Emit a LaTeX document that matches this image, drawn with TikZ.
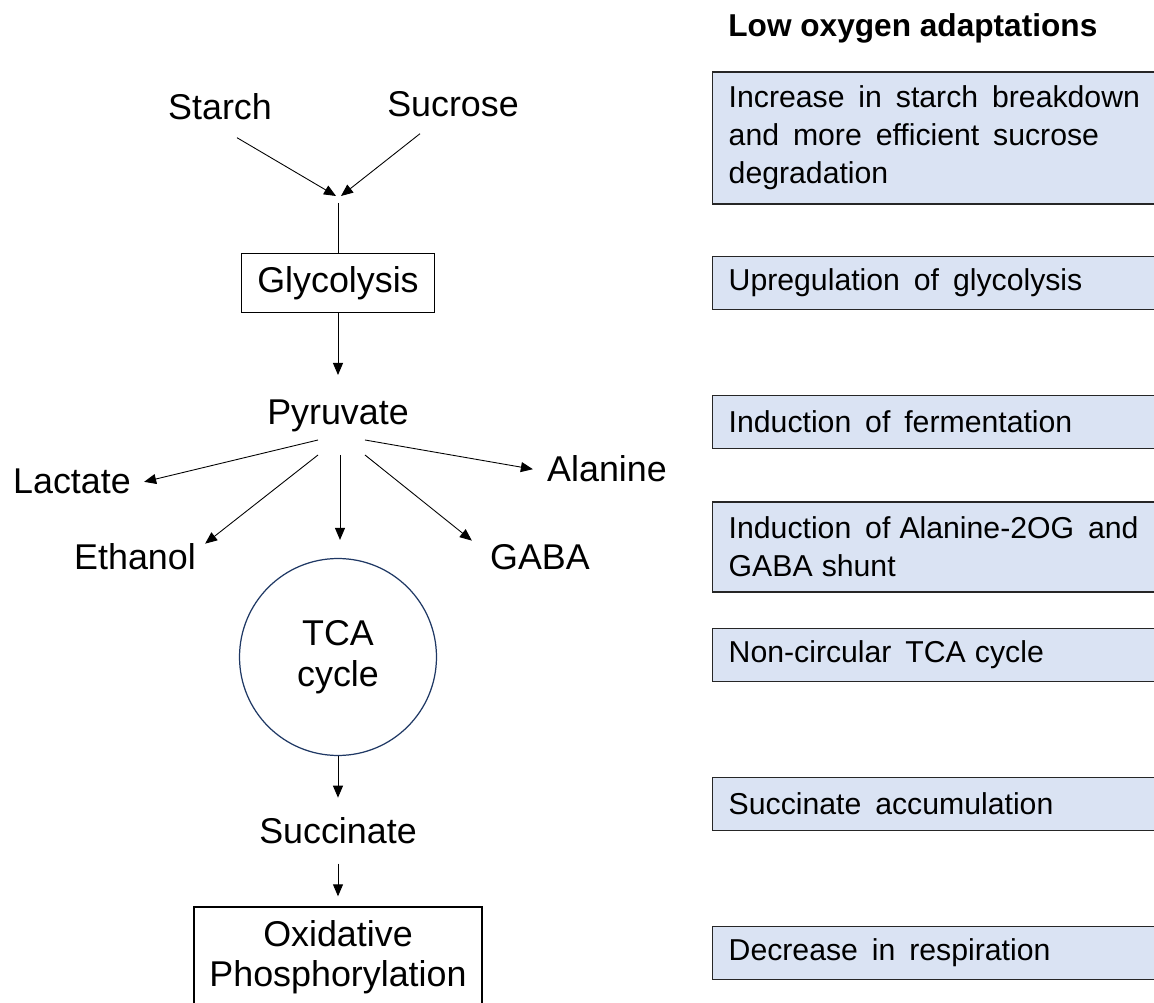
\documentclass[tikz,border=0pt]{standalone}
\usepackage{fontspec}
\setmainfont{Liberation Sans}
\usetikzlibrary{arrows.meta}

\definecolor{adaptfill}{HTML}{DAE3F3}
\definecolor{tcaline}{HTML}{1F3864}

\newcommand\widespaces{\spaceskip 0.46em\relax\hyphenpenalty 10000\relax}

\tikzset{
  lbl/.style={font=\fontsize{20.4}{23}\selectfont, inner sep=0pt, anchor=base},
  procbox/.style={draw, line width=0.8pt, font=\fontsize{20.4}{22.7}\selectfont, align=center},
  adapt/.style={draw=black!85, line width=0.8pt, fill=adaptfill, anchor=west,
    text width=9.4cm, inner xsep=0.32cm, align=left, font=\fontsize{17.2}{21.6}\selectfont},
  arr/.style={-{Triangle[length=0.24cm,width=0.2cm]}, line width=0.5pt},
}

\begin{document}
\begin{tikzpicture}[x=0.02cm, y=-0.02cm]
\useasboundingbox (0,0) rectangle (1154,1003);

% Sugars
\node [lbl] (starch) at (220,120) {Starch};
\node [lbl] (sucrose) at (453,117) {Sucrose};
\coordinate (jl) at (336,196);
\coordinate (jr) at (341,196);
\coordinate (jb) at (338,203);

% Glycolysis and pyruvate
\node [procbox, minimum width=3.86cm, minimum height=1.18cm] (glyco) at (338,283) {Glycolysis};
\node [lbl] (pyruvate) at (338,425) {Pyruvate};

% Products of pyruvate
\node [lbl] (lactate) at (72,494) {Lactate};
\node [lbl] (alanine) at (607,482) {Alanine};
\node [lbl] (ethanol) at (135,570) {Ethanol};
\node [lbl] (gaba) at (540,570) {GABA};

% TCA cycle and below
\node [circle, draw=tcaline, line width=0.7pt, minimum size=3.94cm, inner sep=0pt,
  align=center, font=\fontsize{20.4}{23.2}\selectfont] (tca) at (338,657) {TCA\\cycle};
\node [lbl] (succinate) at (338,843) {Succinate};
\node [procbox, minimum width=5.76cm, minimum height=2cm] (oxphos) at (338,957) {Oxidative\\Phosphorylation};

% Connectors
\draw [arr] (starch.south) ++(17,17) -- (jl);
\draw [arr] (sucrose.south) ++(-33,16) -- (jr);
\draw [line width=0.5pt] (jb) -- (glyco.north);
\draw [arr] (glyco.south) -- ([yshift=0.5cm]pyruvate.north);

\draw [arr] ([xshift=-0.4cm,yshift=-0.3cm]pyruvate.base) -- ([xshift=0.26cm]lactate.east);
\draw [arr] ([xshift=0.54cm,yshift=-0.3cm]pyruvate.base) -- ([xshift=-0.28cm]alanine.west);
\draw [arr] ([xshift=-0.4cm,yshift=-0.6cm]pyruvate.base) -- ([xshift=0.18cm]ethanol.north east);
\draw [arr] ([xshift=0.04cm,yshift=-0.6cm]pyruvate.base) -- ([xshift=0.04cm,yshift=0.36cm]tca.north);
\draw [arr] ([xshift=0.54cm,yshift=-0.6cm]pyruvate.base) -- ([xshift=-0.36cm,yshift=0.08cm]gaba.north west);

\draw [arr] (tca.south) -- ([yshift=0.38cm]succinate.north);
\draw [arr] ([yshift=-0.4cm]succinate.south) -- ([yshift=0.2cm]oxphos.north);

% Low oxygen adaptations
\node [anchor=west, inner sep=0pt, font=\bfseries\fontsize{18}{21}\selectfont] (title) at (728,28) {Low oxygen adaptations};

\foreach \n/\y/\h/\t in {
  starch/138/2.64/{Increase in starch breakdown\\and more efficient sucrose\\degradation},
  glyco/283/1.06/{Upregulation of glycolysis},
  ferment/422/1.06/{Induction of fermentation},
  shunt/547/1.8/{Induction of\kern0.3em Alanine-2OG and\\GABA\kern0.3em shunt},
  tca/655/1.06/{Non-circular TCA\kern0.3em cycle},
  succ/804/1.06/{Succinate accumulation},
  resp/953/1.06/{Decrease in respiration}}
{
\node [adapt, minimum height=\h cm] (adapt-\n) at (712,\y) {\widespaces\t};
}

\end{tikzpicture}
\end{document}
